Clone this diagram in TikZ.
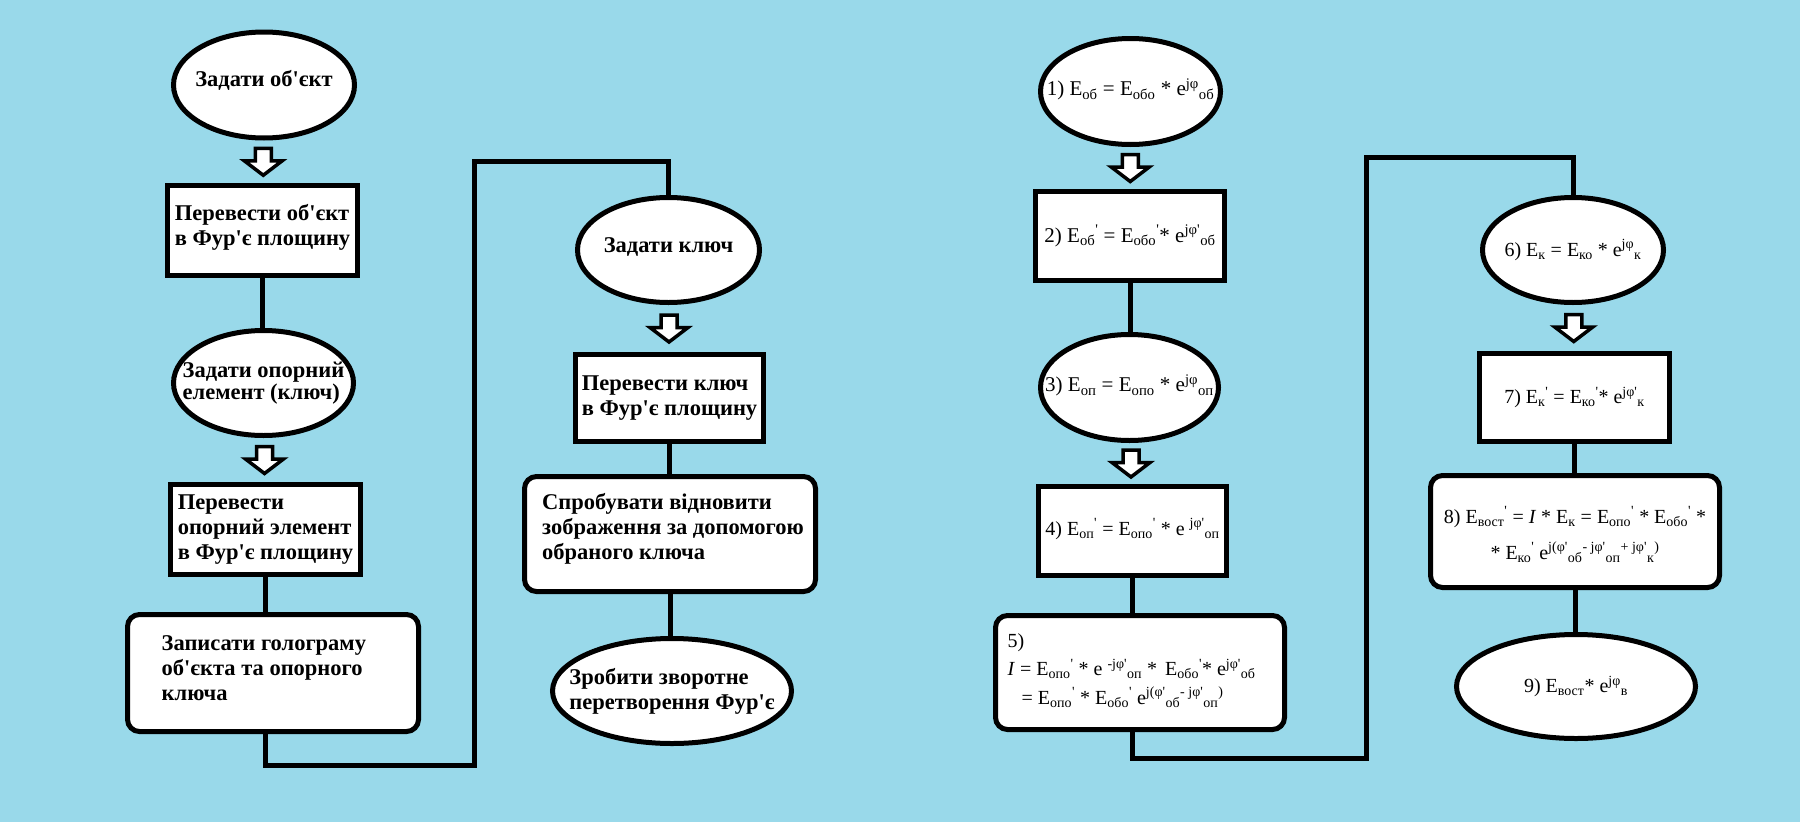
\documentclass[tikz,border=0pt]{standalone}
\usepackage{fontspec}
\setmainfont{Liberation Serif}
\usetikzlibrary{shapes.geometric,calc}
\definecolor{bg}{HTML}{99D9EA}
\newcommand\ap{\textquotesingle}
\newcommand\dn[1]{\textsubscript{#1}}
\newcommand\up[1]{\textsuperscript{#1}}
\newcommand\harrow[2]{%
  \path ($(#1.south)!0.5!(#2.north)$) coordinate (tmp);
  \draw[harrowst, shift={(tmp)}] (-8,-13.5) -- ++(16,0) -- ++(0,12.5) -- ++(11,0)
    -- ++(-19,14.5) -- ++(-19,-14.5) -- ++(11,0) -- cycle;}
\tikzset{
  shp/.style={draw=black, fill=white, line width=5pt, inner sep=0pt, outer sep=0pt},
  ell/.style={shp, ellipse},
  box/.style={shp, rectangle},
  rbox/.style={shp, rectangle, rounded corners=12pt},
  lbl/.style={font=\fontsize{22.5}{25}\selectfont\bfseries, align=left, inner sep=0pt},
  fml/.style={font=\fontsize{20}{25}\selectfont, align=center, inner sep=0pt},
  fmlb/.style={fml, font=\fontsize{21}{25}\selectfont},
  conn/.style={line width=5pt},
  harrowst/.style={draw=black, fill=white, line width=3.5pt}
}
\begin{document}
\begin{tikzpicture}[x=1pt,y=-1pt]
\fill[bg] (0,0) rectangle (1800,822);
\useasboundingbox (0,0) rectangle (1800,822);

% ---------- left column ----------
\node[ell, minimum width=181pt, minimum height=106pt] (e1) at (264,85) {};
\node[lbl] at ($(e1)+(0,-5)$) {Задати об\ap єкт};
\node[box, minimum width=190pt, minimum height=90pt] (r1) at (262.5,230.5) {};
\node[lbl] at ($(r1)+(0,-3)$) {Перевести об\ap єкт\\в Фур\ap є площину};
\node[ell, minimum width=180pt, minimum height=105pt] (e2) at (263.5,383) {};
\node[lbl, font=\fontsize{22.5}{22}\selectfont\bfseries] at (e2) {Задати опорний\\елемент (ключ)};
\node[box, minimum width=190pt, minimum height=90pt] (r3) at (265.5,529.5) {};
\node[lbl] at (r3) {Перевести\\опорний элемент\\в Фур\ap є площину};
\node[rbox, minimum width=291pt, minimum height=117pt] (b4) at (273,673) {};
\node[lbl, anchor=west] at ($(b4.west)+(34,-5)$) {Записати голограму\\об\ap єкта та опорного\\ключа};

% ---------- middle column ----------
\node[ell, minimum width=182pt, minimum height=105pt] (e3) at (668.5,250) {};
\node[lbl] at ($(e3)+(0,-3)$) {Задати ключ};
\node[box, minimum width=188pt, minimum height=87pt] (r2) at (669.5,398) {};
\node[lbl] at (r2) {Перевести ключ\\в Фур\ap є площину};
\node[rbox, minimum width=291pt, minimum height=115pt] (b5) at (670,534) {};
\node[lbl] at ($(b5)+(3,-5)$) {Спробувати відновити\\зображення за допомогою\\обраного ключа};
\node[ell, minimum width=239pt, minimum height=105pt] (e6) at (672,691) {};
\node[lbl] at (e6) {Зробити зворотне\\перетворення Фур\ap є};

% ---------- right part ----------
\node[ell, minimum width=180pt, minimum height=106pt] (E1) at (1130.5,91.5) {};
\node[fmlb] at ($(E1)+(0,-2)$) {1) E\dn{об} = E\dn{обо} * e\up{jφ}\dn{об}};
\node[box, minimum width=189pt, minimum height=89pt] (E2) at (1130,236) {};
\node[fmlb] at (E2) {2) E\dn{об}\up{\ap} = E\dn{обо}\up{\ap}* e\up{jφ\ap}\dn{об}};
\node[ell, minimum width=178pt, minimum height=106pt] (E3) at (1129.5,387.5) {};
\node[fmlb] at ($(E3)+(0,-2)$) {3) E\dn{оп} = E\dn{опо} * e\up{jφ}\dn{оп}};
\node[box, minimum width=188pt, minimum height=89pt] (E4) at (1132.5,531) {};
\node[fml] at ($(E4)+(0,-2)$) {4) E\dn{оп}\up{\ap} = E\dn{опо}\up{\ap} * e \up{jφ\ap}\dn{оп}};
\node[rbox, minimum width=289pt, minimum height=114pt] (E5) at (1140,672.5) {};
\node[fml, align=left, font=\fontsize{20}{28.5}\selectfont, anchor=west] at ($(E5.west)+(12,-2)$)
  {5)\\\textit{I} = E\dn{опо}\up{\ap} * e \up{-jφ\ap}\dn{оп} *\hspace{3pt} E\dn{обо}\up{\ap}* e\up{jφ\ap}\dn{об}\\
   \hspace*{14pt}= E\dn{опо}\up{\ap} * E\dn{обо}\up{\ap} e\up{j(φ\ap}\dn{об}\up{- jφ\ap}\dn{оп}\up{)}};

\node[ell, minimum width=181pt, minimum height=105pt] (E6) at (1573,250) {};
\node[fml] at (E6) {6) E\dn{к} = E\dn{ко} * e\up{jφ}\dn{к}};
\node[box, minimum width=190pt, minimum height=88pt] (E7) at (1574.5,397.5) {};
\node[fml] at (E7) {7) E\dn{к}\up{\ap} = E\dn{ко}\up{\ap}* e\up{jφ\ap}\dn{к}};
\node[rbox, minimum width=289pt, minimum height=112pt] (E8) at (1575,531.5) {};
\node[fml, font=\fontsize{20}{36}\selectfont] at ($(E8)+(0,3)$)
  {8) E\dn{вост}\up{\ap} = \textit{I} * E\dn{к} = E\dn{опо}\up{\ap} * E\dn{обо}\up{\ap} *\\
   * E\dn{ко}\up{\ap} e\up{j(φ\ap}\dn{об}\up{- jφ\ap}\dn{оп}\up{+ jφ\ap}\dn{к}\up{)}};
\node[ell, minimum width=239pt, minimum height=104pt] (E9) at (1576,686.5) {};
\node[fml] at (E9) {9) E\dn{вост}* e\up{jφ}\dn{в}};

% ---------- hollow arrows ----------
\harrow{e1}{r1}
\harrow{e2}{r3}
\harrow{e3}{r2}
\harrow{E1}{E2}
\harrow{E3}{E4}
\harrow{E6}{E7}

% ---------- plain connectors ----------
\coordinate (c1a) at (474,765);
\coordinate (c1b) at (474,161);
\coordinate (c2a) at (1366,758);
\coordinate (c2b) at (1366,157);
\draw[conn] (r1.south) -- (r1.south |- e2.north);
\draw[conn] (r3.south) -- (r3.south |- b4.north);
\draw[conn] (r3.south |- b4.south) |- (c1a) -- (c1b) -| (e3.north);
\draw[conn] (r2.south) -- (r2.south |- b5.north);
\draw[conn] (b5.south) -- (b5.south |- e6.north);
\draw[conn] (E2.south) -- (E2.south |- E3.north);
\draw[conn] (E4.south) -- (E4.south |- E5.north);
\draw[conn] (E4.south |- E5.south) |- (c2a) -- (c2b) -| (E6.north);
\draw[conn] (E7.south) -- (E7.south |- E8.north);
\draw[conn] (E8.south) -- (E8.south |- E9.north);
\end{tikzpicture}
\end{document}
